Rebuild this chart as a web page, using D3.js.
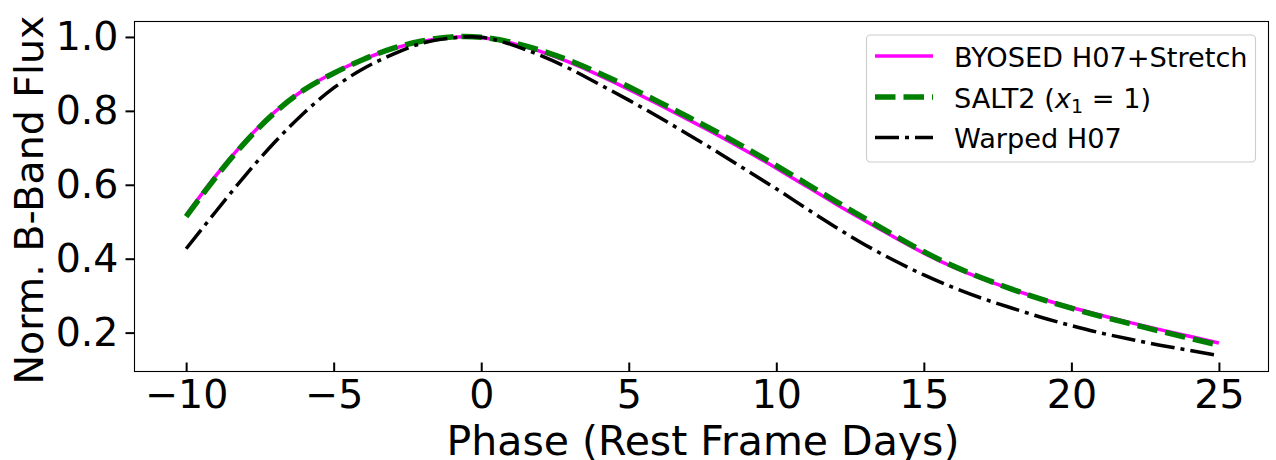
<!DOCTYPE html>
<html>
<head>
  <meta charset="utf-8">
  <title>B-Band Light Curves</title>
  <script src="https://d3js.org/d3.v7.min.js"></script>
  <style>
    body { margin: 0; background: white; }
    text { font-family: "DejaVu Sans", sans-serif; fill: black; }
  </style>
</head>
<body>
<svg width="1276" height="460"></svg>
<script>
  // Phases in rest frame days
  const phase = d3.range(-10, 26);

  // Normalised B-band flux, one value per phase
  const byosed = [0.518, 0.624, 0.718, 0.797, 0.858, 0.903, 0.939, 0.968, 0.988, 0.999,
                  0.998, 0.984, 0.961, 0.931, 0.896, 0.858, 0.818, 0.777, 0.735, 0.691,
                  0.645, 0.597, 0.549, 0.503, 0.458, 0.415, 0.377, 0.345, 0.317, 0.291,
                  0.268, 0.247, 0.227, 0.208, 0.190, 0.172];
  const salt2 = [0.514, 0.620, 0.715, 0.795, 0.857, 0.902, 0.939, 0.969, 0.989, 1.000,
                 0.999, 0.986, 0.964, 0.936, 0.902, 0.865, 0.825, 0.784, 0.742, 0.698,
                 0.652, 0.604, 0.556, 0.509, 0.463, 0.419, 0.380, 0.347, 0.317, 0.290,
                 0.266, 0.244, 0.224, 0.204, 0.185, 0.166];
  const warped = [0.427, 0.527, 0.625, 0.715, 0.795, 0.862, 0.914, 0.953, 0.983, 0.997,
                  0.999, 0.980, 0.950, 0.914, 0.872, 0.829, 0.784, 0.737, 0.689, 0.639,
                  0.589, 0.537, 0.486, 0.438, 0.395, 0.356, 0.322, 0.292, 0.266, 0.241,
                  0.219, 0.199, 0.182, 0.166, 0.152, 0.138];

  const xTicks = [-10, -5, 0, 5, 10, 15, 20, 25];
  const yTicks = [0.2, 0.4, 0.6, 0.8, 1.0];

  const seriesNames = ["BYOSED H07+Stretch", "SALT2", "Warped H07"];

  const svg = d3.select("svg");
  const plotL = 134.5, plotR = 1268.5, plotT = 21.5, plotB = 371.5;

  const x = d3.scaleLinear().domain([-11.75, 26.68]).range([plotL, plotR]);
  const y = d3.scaleLinear().domain([0.0948, 1.0418]).range([plotB, plotT]);

  const series = [
    {name: seriesNames[0], values: byosed, color: "#ff00ff", width: 3.5, dash: null},
    {name: seriesNames[1], values: salt2, color: "#008000", width: 5.5, dash: "20.5,8"},
    {name: seriesNames[2], values: warped, color: "#000000", width: 3.5, dash: "24,6,4,6"}
  ];

  const line = d3.line()
    .x((d, i) => x(phase[i]))
    .y(d => y(d))
    .curve(d3.curveNatural);

  svg.selectAll(".curve")
    .data(series)
    .join("path")
      .attr("class", "curve")
      .attr("fill", "none")
      .attr("stroke", d => d.color)
      .attr("stroke-width", d => d.width)
      .attr("stroke-dasharray", d => d.dash)
      .attr("d", d => line(d.values));

  // Axes
  const xAxis = svg.append("g")
    .attr("transform", `translate(0,${plotB})`)
    .call(d3.axisBottom(x).tickValues(xTicks).tickSizeInner(-9).tickSizeOuter(0).tickPadding(8));
  const yAxis = svg.append("g")
    .attr("transform", `translate(${plotL},0)`)
    .call(d3.axisLeft(y).tickValues(yTicks).tickSizeInner(9).tickSizeOuter(0).tickPadding(7)
      .tickFormat(d3.format(".1f")));

  [xAxis, yAxis].forEach(g => {
    g.select(".domain").remove();
    g.selectAll(".tick line").attr("stroke", "black").attr("stroke-width", 2);
    g.selectAll(".tick text")
      .attr("font-family", "DejaVu Sans")
      .attr("font-size", 39.5)
      .attr("fill", "black");
  });
  xAxis.selectAll(".tick text").attr("dy", "0.71em");

  // Frame
  svg.append("rect")
    .attr("x", plotL).attr("y", plotT)
    .attr("width", plotR - plotL).attr("height", plotB - plotT)
    .attr("fill", "none")
    .attr("stroke", "black")
    .attr("stroke-width", 1.1);

  // Axis labels
  svg.append("text")
    .attr("x", 703)
    .attr("y", 455)
    .attr("text-anchor", "middle")
    .attr("font-size", 41)
    .text("Phase (Rest Frame Days)");

  svg.append("text")
    .attr("transform", `translate(43,200) rotate(-90)`)
    .attr("text-anchor", "middle")
    .attr("font-size", 39.5)
    .text("Norm. B-Band Flux");

  // Legend
  const legend = svg.append("g");
  legend.append("rect")
    .attr("x", 866.5).attr("y", 35)
    .attr("width", 389).attr("height", 127)
    .attr("rx", 4)
    .attr("fill", "white").attr("fill-opacity", 0.8)
    .attr("stroke", "#cccccc").attr("stroke-width", 1.1);

  const rowY = [56, 97, 137.5];
  series.forEach((s, i) => {
    legend.append("line")
      .attr("x1", 875).attr("x2", 933)
      .attr("y1", rowY[i]).attr("y2", rowY[i])
      .attr("stroke", s.color)
      .attr("stroke-width", s.width)
      .attr("stroke-dasharray", s.dash);
  });

  const ls = 27.2;
  legend.append("text").attr("x", 954).attr("y", rowY[0] + 10.5)
    .attr("font-size", ls).text(seriesNames[0]);
  const t2 = legend.append("text").attr("x", 954).attr("y", rowY[1] + 10.5)
    .attr("font-size", ls);
  t2.append("tspan").text(seriesNames[1] + " (");
  t2.append("tspan").attr("font-style", "italic").text("x");
  t2.append("tspan").attr("font-size", ls * 0.7).attr("dy", 5).text("1");
  t2.append("tspan").attr("dy", -5).text(" = 1)");
  legend.append("text").attr("x", 954).attr("y", rowY[2] + 10.5)
    .attr("font-size", ls).text(seriesNames[2]);
</script>
</body>
</html>
